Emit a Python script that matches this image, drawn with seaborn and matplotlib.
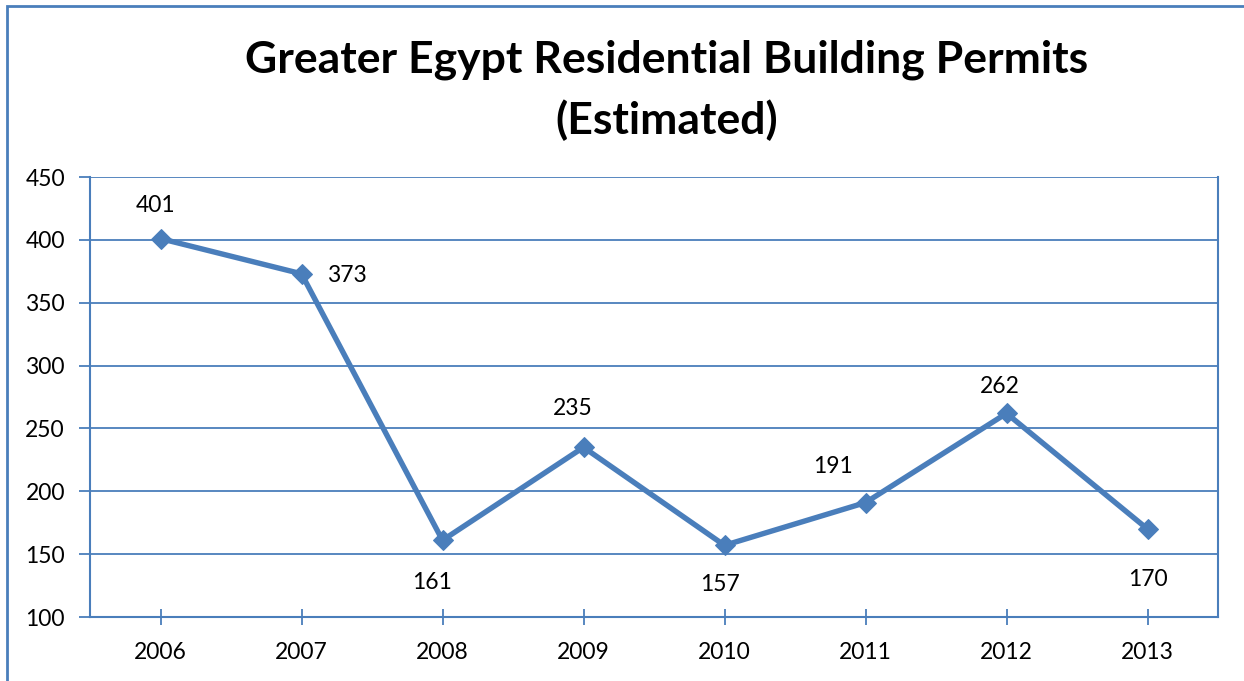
import matplotlib
matplotlib.use("Agg")
import matplotlib.pyplot as plt
import seaborn as sns
import pandas as pd
from matplotlib.patches import Rectangle

years = ["2006", "2007", "2008", "2009", "2010", "2011", "2012", "2013"]
permits = [401, 373, 161, 235, 157, 191, 262, 170]
# label offsets in pixels (dx, dy) for each data label
label_offsets = [(-5, 33), (45, -2), (-10, -42), (-11, 39), (-5, -39), (-33, 36), (-7, 27), (0, -51)]

title = "Greater Egypt Residential Building Permits\n(Estimated)"
yticks = [100, 150, 200, 250, 300, 350, 400, 450]

sns.set_theme(style="white")
plt.rcParams["font.family"] = ["Lato", "DejaVu Sans"]

blue = "#4A7EBB"
df = pd.DataFrame({"x": range(len(years)), "year": years, "permits": permits})

fig = plt.figure(figsize=(12.44, 6.81), dpi=100)
ax = fig.add_axes([90/1244, 1-617/681, (1218-90)/1244, (617-177)/681])

sns.lineplot(data=df, x="x", y="permits", ax=ax, color=blue, linewidth=3.9,
             marker="D", markersize=10, markeredgecolor=blue, markerfacecolor=blue)

ax.set_xlim(-0.5, len(years) - 0.5)
ax.set_ylim(100, 450)
ax.set_yticks(yticks)
ax.set_yticklabels([str(v) for v in yticks], fontsize=16.5, color="black")
ax.set_xticks(range(len(years)))
ax.set_xticklabels(years, fontsize=16.5, color="black")
ax.set_xlabel("")
ax.set_ylabel("")

for v in yticks:
    ax.axhline(v, color=blue, linewidth=1.3, zorder=0)

for s in ["left", "bottom", "right"]:
    ax.spines[s].set_visible(True)
    ax.spines[s].set_color(blue)
    ax.spines[s].set_linewidth(1.5)
ax.spines["top"].set_visible(False)

ax.tick_params(axis="y", direction="out", length=8, width=1.3, color=blue, left=True, pad=10)
ax.tick_params(axis="x", direction="inout", length=12, width=1.3, color=blue, bottom=True, pad=12)

for i, (v, (dx, dy)) in enumerate(zip(permits, label_offsets)):
    ax.annotate(str(v), (i, v), xytext=(dx, dy), textcoords="offset pixels",
                ha="center", va="center", fontsize=16.5, color="black")

fig.text(667/1244, 1-90/681, title, ha="center", va="center", fontsize=32,
         fontweight="bold", color="black", linespacing=1.55)

fig.patches.append(Rectangle((7/1244, -0.1), 1.2, 1 - 6/681 + 0.1, transform=fig.transFigure,
                             fill=False, edgecolor=blue, linewidth=2))

fig.savefig("out.png", dpi=100)
